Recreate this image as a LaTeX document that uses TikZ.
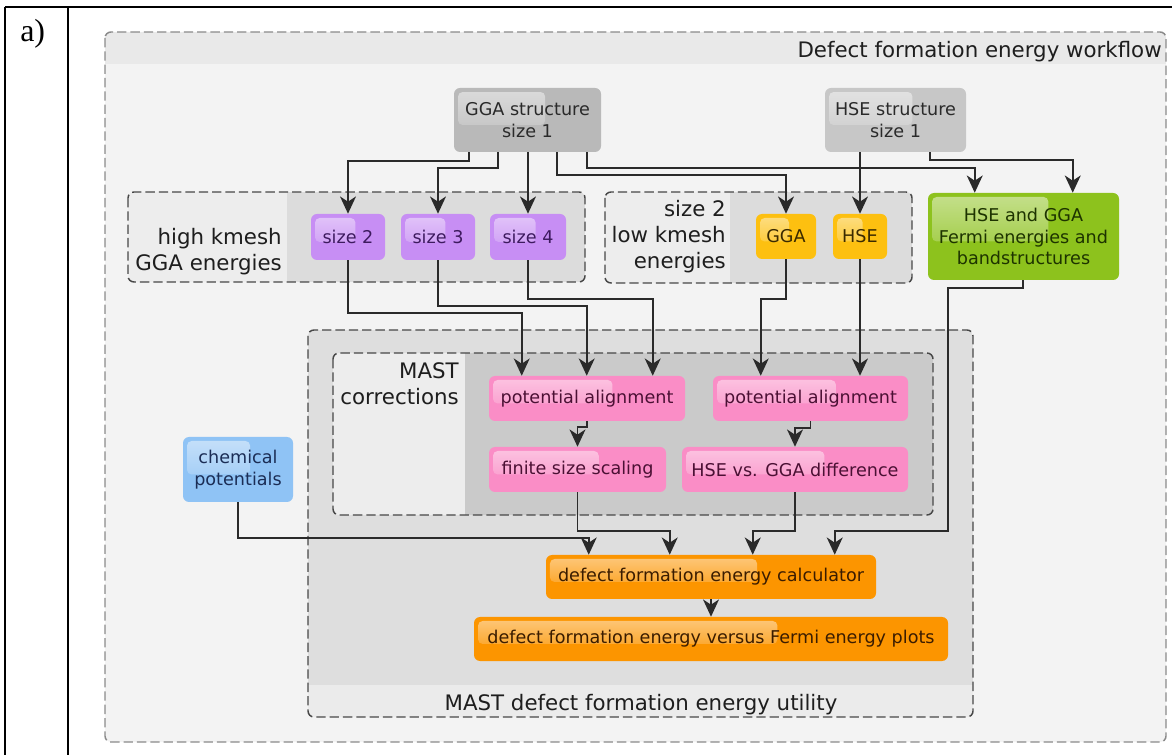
\documentclass[tikz,border=0pt]{standalone}
\usepackage{fontspec}
\setmainfont{DejaVu Sans}
\newfontfamily\capfont{Liberation Serif}
\usetikzlibrary{arrows.meta,calc,fadings}

\newcommand\boxfont{\fontsize{13.2pt}{16pt}\selectfont}
\newcommand\lblfont{\fontsize{16pt}{19.5pt}\selectfont}

\definecolor{bodybg}{HTML}{F3F3F3}
\definecolor{headbg}{HTML}{E9E9E9}
\definecolor{grpL}{HTML}{EDEDED}
\definecolor{grpD}{HTML}{DCDCDC}
\definecolor{utilbg}{HTML}{DEDEDE}
\definecolor{utilband}{HTML}{EBEBEB}
\definecolor{corrD}{HTML}{CACACA}
\definecolor{dashdark}{HTML}{474747}
\definecolor{dashgray}{HTML}{8A8A8A}
\definecolor{linec}{HTML}{2A2A2A}
\definecolor{lbltext}{HTML}{1E1E1E}
\definecolor{ggafill}{HTML}{B9B9B9}
\definecolor{hsefill}{HTML}{C7C7C7}
\definecolor{greytext}{HTML}{2A2A2A}
\definecolor{purp}{HTML}{C78EF4}
\definecolor{purptext}{HTML}{3D1A5E}
\definecolor{yell}{HTML}{FDC010}
\definecolor{yelltext}{HTML}{3A2A00}
\definecolor{grn}{HTML}{8DC21D}
\definecolor{grntext}{HTML}{1D3300}
\definecolor{pnk}{HTML}{FA8DC6}
\definecolor{pnktext}{HTML}{4B1034}
\definecolor{blu}{HTML}{8FC3F5}
\definecolor{blutext}{HTML}{1B2D55}
\definecolor{orng}{HTML}{FC9500}
\definecolor{orngtext}{HTML}{3A1C00}

\begin{document}
\begin{tikzpicture}[x=0.75pt,y=-0.75pt,
  tbl/.style={draw=black,line width=1.5pt},
  outerdash/.style={draw=dashgray,line width=1.1pt,dash pattern=on 7pt off 3pt},
  grpdash/.style={draw=dashdark,line width=1.1pt,dash pattern=on 7pt off 3pt},
  box/.style={rounded corners=4.5pt,inner sep=0pt,align=center,font=\boxfont},
  sz/.style 2 args={minimum width=#1*0.75pt,minimum height=#2*0.75pt},
  gloss/.style={path picture={
    \fill[white,fill opacity=0.5,path fading=south,rounded corners=3.5pt]
      ($(path picture bounding box.north west)+(4,4)$) rectangle
      ($(path picture bounding box.west)!#1!(path picture bounding box.east)+(0,5)$);}},
  lbl/.style={font=\lblfont,inner sep=0pt,text=lbltext},
  conn/.style={draw=linec,line width=1.2pt,-{Stealth[length=13pt,width=12pt,inset=4pt]}},
]
\useasboundingbox (0,0) rectangle (1172,755);

% table frame
\draw[tbl] (5,7) -- (1172,7);
\draw[tbl] (5,7) -- (5,755);
\draw[tbl] (68,7) -- (68,755);
\node[anchor=base west,inner sep=0pt,font=\capfont\fontsize{24pt}{28pt}\selectfont] (lab) at (20,42) {a)};

% workflow frame with header band
\fill[bodybg,rounded corners=4.5pt] (105,32) rectangle (1166,742);
\begin{scope}
  \clip[rounded corners=4.5pt] (105,32) rectangle (1166,742);
  \fill[headbg] (105,32) rectangle (1166,64);
\end{scope}
\draw[outerdash,rounded corners=4.5pt] (105,32) rectangle (1166,742);
\node[lbl,anchor=base east] (title) at (1162,58) {Defect formation energy workflow};

% utility group
\begin{scope}
  \clip[rounded corners=4.5pt] (308,330) rectangle (973,717);
  \fill[utilbg] (308,330) rectangle (973,717);
  \fill[utilband] (308,685) rectangle (973,717);
\end{scope}
\draw[grpdash,rounded corners=4.5pt] (308,330) rectangle (973,717);
\node[lbl,anchor=base] (utl) at (641,710) {MAST defect formation energy utility};

% corrections group
\begin{scope}
  \clip[rounded corners=4.5pt] (333,353) rectangle (933,515);
  \fill[grpL] (333,353) rectangle (465,515);
  \fill[corrD] (465,353) rectangle (933,515);
\end{scope}
\draw[grpdash,rounded corners=4.5pt] (333,353) rectangle (933,515);
\node[lbl,align=right,anchor=east] (mcl) at (459,383.4) {MAST\\corrections};

% high kmesh group
\begin{scope}
  \clip[rounded corners=4.5pt] (128,192) rectangle (585,282);
  \fill[grpL] (128,192) rectangle (287,282);
  \fill[grpD] (287,192) rectangle (585,282);
\end{scope}
\draw[grpdash,rounded corners=4.5pt] (128,192) rectangle (585,282);
\node[lbl,align=right,anchor=east] (hkl) at (282,251.5) {high kmesh\\GGA energies};

% low kmesh group
\begin{scope}
  \clip[rounded corners=4.5pt] (605,192) rectangle (912,283);
  \fill[grpL] (605,192) rectangle (730,283);
  \fill[grpD] (730,192) rectangle (912,283);
\end{scope}
\draw[grpdash,rounded corners=4.5pt] (605,192) rectangle (912,283);
\node[lbl,align=right,anchor=east] (lkl) at (726,237) {size 2\\low kmesh\\energies};

% calculation steps
\node[box,sz={147}{64},fill=ggafill,text=greytext,gloss=0.62] (ggas) at (527.5,120) {GGA structure\\size 1};
\node[box,sz={141}{64},fill=hsefill,text=greytext,gloss=0.62] (hses) at (895.5,120) {HSE structure\\size 1};

\node[box,sz={74}{46},fill=purp,text=purptext,gloss=0.6] (s2) at (348,237) {size 2};
\node[box,sz={74}{46},fill=purp,text=purptext,gloss=0.6] (s3) at (438,237) {size 3};
\node[box,sz={76}{46},fill=purp,text=purptext,gloss=0.6] (s4) at (528,237) {size 4};

\node[box,sz={60}{45},fill=yell,text=yelltext,gloss=0.55] (ggal) at (786,236.5) {GGA};
\node[box,sz={54}{45},fill=yell,text=yelltext,gloss=0.55] (hsel) at (860,236.5) {HSE};

\node[box,sz={191}{87},fill=grn,text=grntext,gloss=0.63] (green) at (1023.5,236.5) {HSE and GGA\\Fermi energies and\\bandstructures};

\node[box,sz={196}{45},fill=pnk,text=pnktext,gloss=0.63] (pa1) at (587,398.5) {potential alignment};
\node[box,sz={177}{45},fill=pnk,text=pnktext,gloss=0.62] (fss) at (577.5,469.5) {finite size scaling};
\node[box,sz={195}{45},fill=pnk,text=pnktext,gloss=0.63] (pa2) at (810.5,398.5) {potential alignment};
\node[box,sz={226}{45},fill=pnk,text=pnktext,gloss=0.63] (hvg) at (795,469.5) {HSE vs. GGA difference};

\node[box,sz={110}{65},fill=blu,text=blutext,gloss=0.61] (chem) at (238,469.5) {chemical\\potentials};

\node[box,sz={330}{44},fill=orng,text=orngtext,gloss=0.64] (calc) at (711,577) {defect formation energy calculator};
\node[box,sz={474}{44},fill=orng,text=orngtext,gloss=0.64] (plots) at (711,639) {defect formation energy versus Fermi energy plots};

% connectors
\draw[conn] ($(ggas.south west)+(15,0)$) -- ++(0,9) -| (s2.north);
\draw[conn] ($(ggas.south west)+(44,0)$) -- ++(0,16) -| (s3.north);
\draw[conn] (s4.north |- ggas.south) -- (s4.north);
\draw[conn] ($(ggas.south west)+(103,0)$) -- ++(0,23) -| (ggal.north);
\draw[conn] ($(ggas.south west)+(133,0)$) -- ++(0,16) -| ($(green.north west)+(47,0)$);
\draw[conn] (hsel.north |- hses.south) -- (hsel.north);
\draw[conn] ($(hses.south west)+(105,0)$) -- ++(0,8) -| ($(green.north west)+(145,0)$);

\draw[conn] (s2.south) -- ++(0,53) -| ($(pa1.north west)+(33,0)$);
\draw[conn] (s3.south) -- ++(0,46) -| ($(pa1.north west)+(98,0)$);
\draw[conn] (s4.south) -- ++(0,39) -| ($(pa1.north west)+(164,0)$);
\draw[conn] (ggal.south) -- ++(0,39.5) -| ($(pa2.north west)+(48,0)$);
\draw[conn] (hsel.south) -- (hsel.south |- pa2.north);

\draw[conn] (pa1.south) -- ++(0,6) -| (fss.north);
\draw[conn] (pa2.south) -- ++(0,7) -| (hvg.north);

\draw[conn] ($(green.south west)+(95,0)$) -- ++(0,8) -- ++(-75,0) -- ++(0,243) -| ($(calc.north west)+(289,0)$);
\draw[conn] (fss.south) -- ++(0,38.5) -| ($(calc.north west)+(124,0)$);
\draw[conn] (hvg.south) -- ++(0,39) -| ($(calc.north west)+(207,0)$);
\draw[conn] (chem.south) -- ++(0,36) -| ($(calc.north west)+(43,0)$);
\draw[conn] (calc.south) -- (plots.north);
\end{tikzpicture}
\end{document}
